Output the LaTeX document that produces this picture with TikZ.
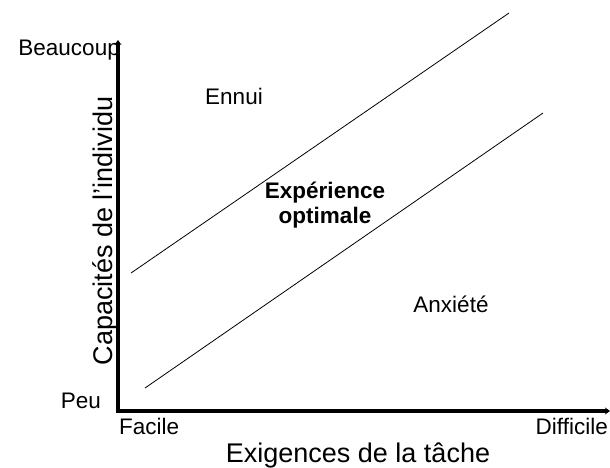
\documentclass[tikz,border=0pt]{standalone}
\usepackage{fontspec}
\setmainfont{Liberation Sans}
\usetikzlibrary{arrows.meta}

\begin{document}
\begin{tikzpicture}[x=1pt,y=-1pt,
    axe/.style={line width=4pt,{Stealth[length=5pt,width=7pt]}-{Stealth[length=5pt,width=7pt]}},
    bord/.style={line width=0.8pt},
    petit/.style={font=\fontsize{22.5}{25}\selectfont,inner sep=0pt},
    grand/.style={font=\fontsize{27}{30}\selectfont,inner sep=0pt}]
    \useasboundingbox (0,0) rectangle (610,467);
    \coordinate (o) at (118,411);
    \coordinate (h) at (118,40);
    \coordinate (d) at (610,411);
    \coordinate (a) at (131,273);
    \coordinate (b) at (509,13);
    \coordinate (c) at (145,388);
    \coordinate (e) at (543,113);
    \draw[axe] (h) -- (o) -- (d);
    \draw[bord] (a) -- (b);
    \draw[bord] (c) -- (e);
    \node[petit, anchor=base east] (beaucoup) at (120,55) {Beaucoup};
    \node[petit, anchor=base east] (peu) at (101,408) {Peu};
    \node[petit, anchor=base west] (facile) at (119,434) {Facile};
    \node[petit, anchor=base east] (difficile) at (608,434) {Difficile};
    \node[grand, anchor=base] (exigences) at (358,462) {Exigences de la tâche};
    \node[grand, anchor=base, rotate=90] (capacites) at (112,231) {Capacités de l'individu};
    \node[petit, anchor=base] (ennui) at (234,104) {Ennui};
    \node[petit, anchor=base] (anxiete) at (451,312) {Anxiété};
    \node[petit, font=\bfseries\fontsize{22.5}{25}\selectfont, align=center] (optimale) at (325,205) {Expérience\\optimale};
\end{tikzpicture}
\end{document}
